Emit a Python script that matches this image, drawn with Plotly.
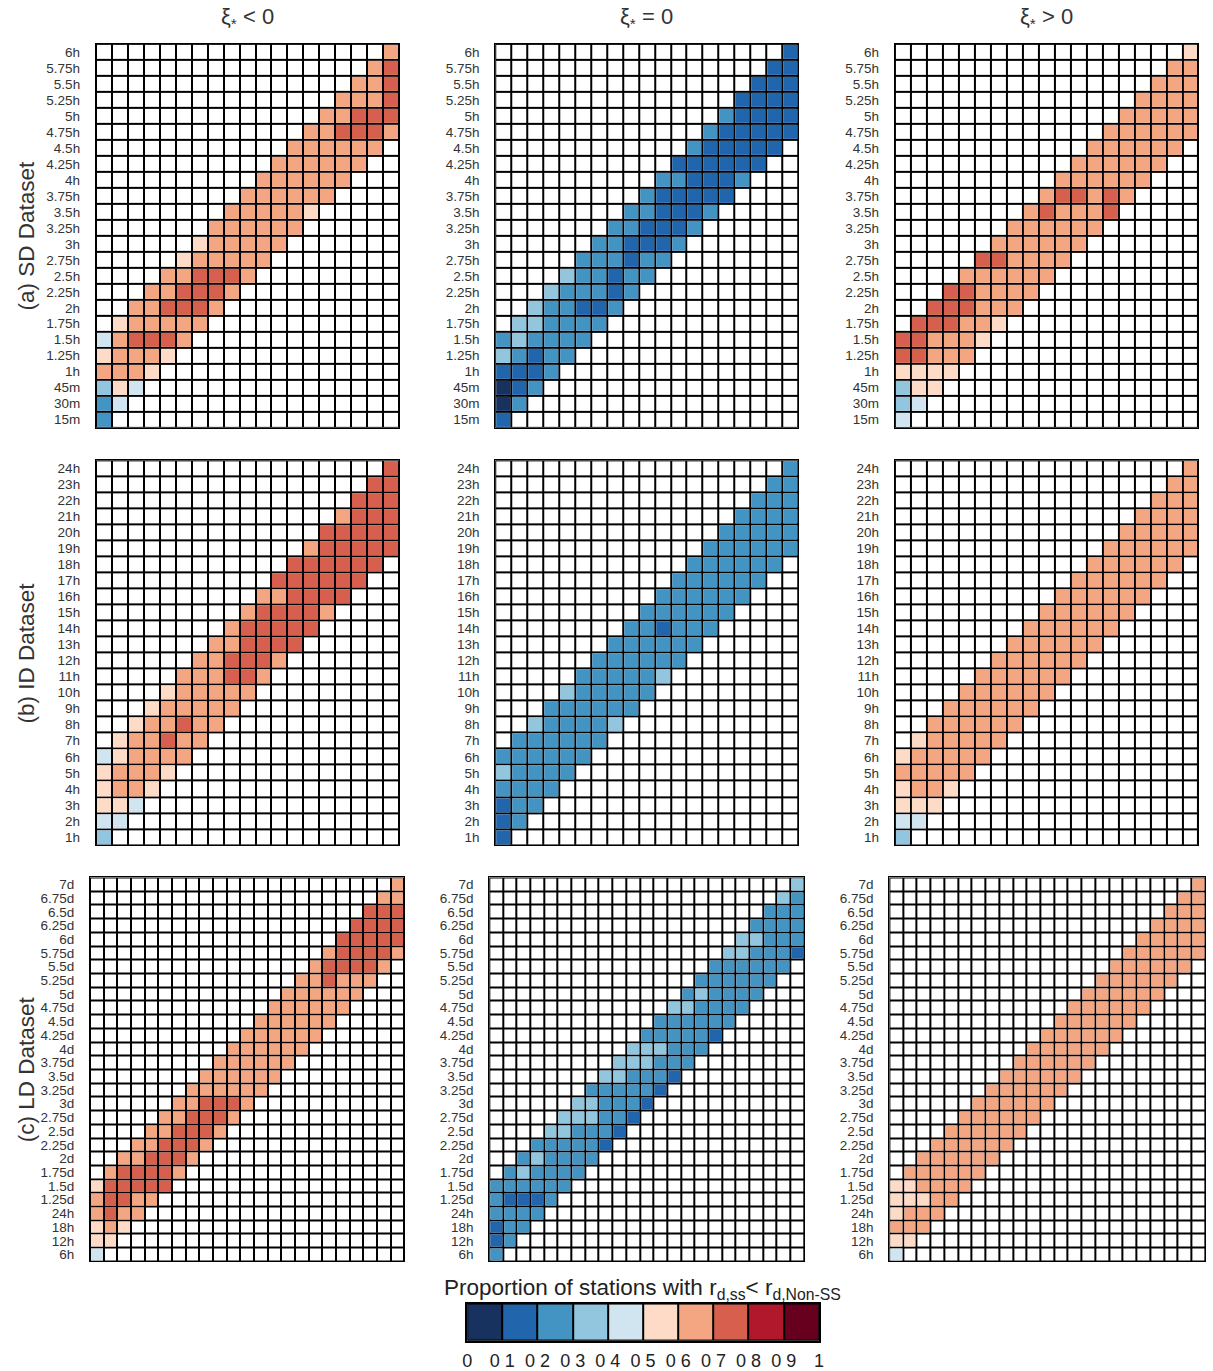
import plotly.graph_objects as go

W, H = 1213, 1371

# ---------------- tick labels ----------------
SD_LABELS = ["15m", "30m", "45m", "1h", "1.25h", "1.5h", "1.75h", "2h", "2.25h", "2.5h",
             "2.75h", "3h", "3.25h", "3.5h", "3.75h", "4h", "4.25h", "4.5h", "4.75h", "5h",
             "5.25h", "5.5h", "5.75h", "6h"]
ID_LABELS = ["1h", "2h", "3h", "4h", "5h", "6h", "7h", "8h", "9h", "10h", "11h", "12h",
             "13h", "14h", "15h", "16h", "17h", "18h", "19h", "20h", "21h", "22h", "23h", "24h"]
LD_LABELS = ["6h", "12h", "18h", "24h", "1.25d", "1.5d", "1.75d", "2d", "2.25d", "2.5d",
             "2.75d", "3d", "3.25d", "3.5d", "3.75d", "4d", "4.25d", "4.5d", "4.75d", "5d",
             "5.25d", "5.5d", "5.75d", "6d", "6.25d", "6.5d", "6.75d", "7d"]

COL_TITLES = ["ξ<sub>*</sub> < 0", "ξ<sub>*</sub> = 0", "ξ<sub>*</sub> > 0"]
ROW_TITLES = ["(a) SD Dataset", "(b) ID Dataset", "(c) LD Dataset"]

# ---------------- values (proportion, band cells per row, bottom row first) -------------
SD_NEG = [
    [0.25], [0.25, 0.45], [0.35, 0.55, 0.45], [0.65, 0.65, 0.65, 0.55],
    [0.55, 0.65, 0.65, 0.65, 0.55], [0.45, 0.65, 0.75, 0.75, 0.75, 0.65],
    [0.55, 0.65, 0.65, 0.65, 0.65, 0.65], [0.65, 0.65, 0.75, 0.75, 0.75, 0.65],
    [0.65, 0.65, 0.75, 0.75, 0.75, 0.65], [0.65, 0.65, 0.75, 0.75, 0.75, 0.65],
    [0.55, 0.65, 0.65, 0.65, 0.65, 0.65], [0.55, 0.65, 0.65, 0.65, 0.65, 0.65],
    [0.65, 0.65, 0.65, 0.65, 0.65, 0.65], [0.65, 0.65, 0.65, 0.65, 0.65, 0.55],
    [0.65, 0.65, 0.65, 0.65, 0.65, 0.65], [0.65, 0.65, 0.65, 0.65, 0.65, 0.65],
    [0.65, 0.65, 0.65, 0.65, 0.65, 0.65], [0.65, 0.65, 0.65, 0.65, 0.65, 0.65],
    [0.65, 0.65, 0.75, 0.75, 0.75, 0.65], [0.65, 0.65, 0.75, 0.75, 0.75],
    [0.65, 0.65, 0.65, 0.75], [0.65, 0.65, 0.75], [0.65, 0.75], [0.65],
]
SD_ZERO = [
    [0.15], [0.05, 0.25], [0.05, 0.15, 0.25], [0.15, 0.15, 0.15, 0.25],
    [0.35, 0.25, 0.15, 0.25, 0.25], [0.25, 0.35, 0.25, 0.25, 0.25, 0.25],
    [0.35, 0.35, 0.25, 0.25, 0.25, 0.25], [0.35, 0.25, 0.25, 0.15, 0.15, 0.25],
    [0.35, 0.25, 0.25, 0.25, 0.15, 0.25], [0.35, 0.25, 0.25, 0.15, 0.25, 0.25],
    [0.25, 0.25, 0.25, 0.15, 0.25, 0.25], [0.25, 0.25, 0.15, 0.15, 0.15, 0.25],
    [0.25, 0.25, 0.15, 0.15, 0.15, 0.25], [0.25, 0.25, 0.15, 0.15, 0.15, 0.25],
    [0.25, 0.15, 0.15, 0.15, 0.15, 0.15], [0.25, 0.25, 0.15, 0.15, 0.15, 0.25],
    [0.15, 0.15, 0.15, 0.15, 0.15, 0.15], [0.25, 0.15, 0.15, 0.15, 0.15, 0.15],
    [0.25, 0.15, 0.15, 0.15, 0.15, 0.15], [0.25, 0.15, 0.15, 0.15, 0.15],
    [0.15, 0.15, 0.15, 0.15], [0.15, 0.15, 0.15], [0.15, 0.15], [0.15],
]
SD_POS = [
    [0.45], [0.35, 0.45], [0.35, 0.55, 0.55], [0.55, 0.55, 0.55, 0.55],
    [0.75, 0.75, 0.65, 0.65, 0.65], [0.75, 0.75, 0.65, 0.65, 0.65, 0.55],
    [0.75, 0.75, 0.75, 0.65, 0.65, 0.55], [0.75, 0.75, 0.75, 0.65, 0.65, 0.65],
    [0.75, 0.75, 0.65, 0.65, 0.65, 0.65], [0.65, 0.65, 0.65, 0.65, 0.65, 0.65],
    [0.75, 0.75, 0.65, 0.65, 0.65, 0.65], [0.65, 0.65, 0.65, 0.65, 0.65, 0.65],
    [0.65, 0.65, 0.65, 0.65, 0.65, 0.65], [0.65, 0.75, 0.65, 0.65, 0.65, 0.75],
    [0.65, 0.75, 0.75, 0.65, 0.75, 0.65], [0.65, 0.65, 0.65, 0.65, 0.65, 0.65],
    [0.65, 0.65, 0.65, 0.65, 0.65, 0.65], [0.65, 0.65, 0.65, 0.65, 0.65, 0.65],
    [0.65, 0.65, 0.65, 0.65, 0.65, 0.65], [0.65, 0.65, 0.65, 0.65, 0.65],
    [0.65, 0.65, 0.65, 0.65], [0.65, 0.65, 0.65], [0.65, 0.65], [0.55],
]
ID_NEG = [
    [0.35], [0.45, 0.45], [0.55, 0.55, 0.45], [0.55, 0.65, 0.65, 0.55],
    [0.55, 0.65, 0.65, 0.65, 0.55], [0.45, 0.55, 0.65, 0.65, 0.65, 0.65],
    [0.55, 0.65, 0.65, 0.75, 0.65, 0.65], [0.55, 0.65, 0.65, 0.75, 0.65, 0.65],
    [0.55, 0.65, 0.65, 0.65, 0.65, 0.65], [0.55, 0.65, 0.65, 0.65, 0.65, 0.65],
    [0.65, 0.65, 0.65, 0.75, 0.75, 0.65], [0.65, 0.65, 0.75, 0.75, 0.75, 0.65],
    [0.65, 0.65, 0.75, 0.75, 0.75, 0.75], [0.65, 0.75, 0.75, 0.75, 0.75, 0.75],
    [0.65, 0.75, 0.75, 0.75, 0.75, 0.65], [0.65, 0.65, 0.75, 0.75, 0.75, 0.75],
    [0.75, 0.75, 0.75, 0.75, 0.75, 0.75], [0.75, 0.75, 0.75, 0.75, 0.75, 0.75],
    [0.65, 0.75, 0.75, 0.75, 0.75, 0.75], [0.75, 0.75, 0.75, 0.75, 0.75],
    [0.65, 0.75, 0.75, 0.75], [0.75, 0.75, 0.75], [0.75, 0.75], [0.75],
]
ID_ZERO = [
    [0.15], [0.15, 0.25], [0.15, 0.25, 0.25], [0.25, 0.25, 0.25, 0.25],
    [0.35, 0.25, 0.25, 0.25, 0.25], [0.25, 0.25, 0.25, 0.25, 0.25, 0.25],
    [0.25, 0.25, 0.25, 0.25, 0.25, 0.25], [0.35, 0.25, 0.25, 0.25, 0.25, 0.35],
    [0.25, 0.25, 0.25, 0.25, 0.25, 0.25], [0.35, 0.25, 0.25, 0.25, 0.25, 0.25],
    [0.25, 0.25, 0.25, 0.25, 0.25, 0.35], [0.25, 0.25, 0.25, 0.25, 0.25, 0.25],
    [0.25, 0.25, 0.25, 0.25, 0.25, 0.25], [0.25, 0.25, 0.15, 0.25, 0.25, 0.25],
    [0.25, 0.25, 0.25, 0.25, 0.25, 0.25], [0.25, 0.25, 0.25, 0.25, 0.25, 0.25],
    [0.25, 0.25, 0.25, 0.25, 0.25, 0.25], [0.25, 0.25, 0.25, 0.25, 0.25, 0.25],
    [0.25, 0.25, 0.25, 0.25, 0.25, 0.25], [0.25, 0.25, 0.25, 0.25, 0.25],
    [0.25, 0.25, 0.25, 0.25], [0.25, 0.25, 0.25], [0.25, 0.25], [0.25],
]
ID_POS = [
    [0.35], [0.45, 0.45], [0.55, 0.55, 0.55], [0.55, 0.65, 0.65, 0.55],
    [0.65, 0.65, 0.65, 0.65, 0.65], [0.55, 0.65, 0.65, 0.65, 0.65, 0.65],
    [0.55, 0.65, 0.65, 0.65, 0.65, 0.65], [0.65, 0.65, 0.65, 0.65, 0.65, 0.65],
    [0.65, 0.65, 0.65, 0.65, 0.65, 0.65], [0.65, 0.65, 0.65, 0.65, 0.65, 0.65],
    [0.65, 0.65, 0.65, 0.65, 0.65, 0.65], [0.65, 0.65, 0.65, 0.65, 0.65, 0.65],
    [0.65, 0.65, 0.65, 0.65, 0.65, 0.65], [0.65, 0.65, 0.65, 0.65, 0.65, 0.65],
    [0.65, 0.65, 0.65, 0.65, 0.65, 0.65], [0.65, 0.65, 0.65, 0.65, 0.65, 0.65],
    [0.65, 0.65, 0.65, 0.65, 0.65, 0.65], [0.65, 0.65, 0.65, 0.65, 0.65, 0.65],
    [0.65, 0.65, 0.65, 0.65, 0.65, 0.65], [0.65, 0.65, 0.65, 0.65, 0.65],
    [0.65, 0.65, 0.65, 0.65], [0.65, 0.65, 0.65], [0.65, 0.65], [0.65],
]
LD_NEG = [
    [0.45], [0.55, 0.55], [0.55, 0.65, 0.55], [0.65, 0.75, 0.65, 0.65],
    [0.65, 0.75, 0.75, 0.65, 0.65], [0.55, 0.75, 0.75, 0.75, 0.75, 0.75],
    [0.65, 0.75, 0.75, 0.75, 0.75, 0.65], [0.65, 0.65, 0.75, 0.75, 0.75, 0.65],
    [0.65, 0.65, 0.75, 0.75, 0.75, 0.65], [0.65, 0.65, 0.75, 0.75, 0.75, 0.65],
    [0.65, 0.65, 0.75, 0.75, 0.75, 0.65], [0.65, 0.65, 0.75, 0.75, 0.75, 0.65],
    [0.65, 0.65, 0.65, 0.65, 0.65, 0.65], [0.65, 0.65, 0.65, 0.65, 0.65, 0.65],
    [0.65, 0.65, 0.65, 0.65, 0.65, 0.65], [0.65, 0.65, 0.65, 0.65, 0.65, 0.65],
    [0.65, 0.65, 0.65, 0.65, 0.65, 0.65], [0.65, 0.65, 0.65, 0.65, 0.65, 0.65],
    [0.65, 0.65, 0.65, 0.65, 0.65, 0.65], [0.65, 0.65, 0.65, 0.65, 0.65, 0.65],
    [0.65, 0.65, 0.75, 0.65, 0.65, 0.65], [0.65, 0.75, 0.75, 0.75, 0.75, 0.65],
    [0.65, 0.75, 0.75, 0.75, 0.75, 0.65], [0.75, 0.75, 0.75, 0.75, 0.75],
    [0.75, 0.75, 0.75, 0.75], [0.75, 0.75, 0.75], [0.65, 0.65], [0.65],
]
LD_ZERO = [
    [0.25], [0.15, 0.25], [0.15, 0.25, 0.25], [0.25, 0.25, 0.25, 0.25],
    [0.25, 0.15, 0.15, 0.15, 0.25], [0.25, 0.25, 0.25, 0.25, 0.25, 0.25],
    [0.25, 0.35, 0.25, 0.25, 0.25, 0.25], [0.25, 0.35, 0.25, 0.25, 0.25, 0.25],
    [0.25, 0.25, 0.25, 0.25, 0.25, 0.15], [0.35, 0.35, 0.25, 0.25, 0.25, 0.15],
    [0.35, 0.35, 0.35, 0.25, 0.25, 0.15], [0.35, 0.35, 0.25, 0.25, 0.25, 0.15],
    [0.25, 0.25, 0.25, 0.25, 0.25, 0.15], [0.35, 0.35, 0.25, 0.25, 0.25, 0.15],
    [0.35, 0.35, 0.35, 0.25, 0.25, 0.25], [0.35, 0.35, 0.35, 0.25, 0.25, 0.25],
    [0.25, 0.25, 0.25, 0.25, 0.25, 0.15], [0.25, 0.25, 0.25, 0.25, 0.25, 0.25],
    [0.35, 0.35, 0.25, 0.25, 0.25, 0.25], [0.25, 0.35, 0.25, 0.25, 0.25, 0.25],
    [0.25, 0.25, 0.25, 0.25, 0.25, 0.25], [0.25, 0.25, 0.25, 0.25, 0.25, 0.25],
    [0.35, 0.35, 0.25, 0.25, 0.25, 0.15], [0.35, 0.35, 0.25, 0.25, 0.25],
    [0.25, 0.25, 0.25, 0.25], [0.25, 0.25, 0.25], [0.35, 0.25], [0.35],
]
LD_POS = [
    [0.45], [0.55, 0.55], [0.65, 0.65, 0.65], [0.55, 0.65, 0.65, 0.65],
    [0.55, 0.55, 0.55, 0.65, 0.65], [0.55, 0.55, 0.65, 0.65, 0.65, 0.65],
    [0.65, 0.65, 0.65, 0.65, 0.65, 0.65], [0.65, 0.65, 0.65, 0.65, 0.65, 0.65],
    [0.65, 0.65, 0.65, 0.65, 0.65, 0.65], [0.65, 0.65, 0.65, 0.65, 0.65, 0.65],
    [0.65, 0.65, 0.65, 0.65, 0.65, 0.65], [0.65, 0.65, 0.65, 0.65, 0.65, 0.65],
    [0.65, 0.65, 0.65, 0.65, 0.65, 0.65], [0.65, 0.65, 0.65, 0.65, 0.65, 0.65],
    [0.65, 0.65, 0.65, 0.65, 0.65, 0.65], [0.65, 0.65, 0.65, 0.65, 0.65, 0.65],
    [0.65, 0.65, 0.65, 0.65, 0.65, 0.65], [0.65, 0.65, 0.65, 0.65, 0.65, 0.65],
    [0.65, 0.65, 0.65, 0.65, 0.65, 0.65], [0.65, 0.65, 0.65, 0.65, 0.65, 0.65],
    [0.65, 0.65, 0.65, 0.65, 0.65, 0.65], [0.65, 0.65, 0.65, 0.65, 0.65, 0.65],
    [0.65, 0.65, 0.65, 0.65, 0.65, 0.65], [0.65, 0.65, 0.65, 0.65, 0.65],
    [0.65, 0.65, 0.65, 0.65], [0.65, 0.65, 0.65], [0.65, 0.65], [0.65],
]

CB_VALUES = [0.05, 0.15, 0.25, 0.35, 0.45, 0.55, 0.65, 0.75, 0.85, 0.95]
CB_TICKS = ["0", "0 1", "0 2", "0 3", "0 4", "0 5", "0 6", "0 7", "0 8", "0 9", "1"]

COLORS = ["#17325f", "#2166ac", "#4393c3", "#92c5de", "#d1e5f0",
          "#fddbc7", "#f4a582", "#d6604d", "#b2182b", "#67001f"]
CSCALE = []
for k, c in enumerate(COLORS):
    CSCALE += [[k / 10, c], [(k + 1) / 10, c]]

PANELS = [
    (SD_NEG, SD_LABELS), (SD_ZERO, SD_LABELS), (SD_POS, SD_LABELS),
    (ID_NEG, ID_LABELS), (ID_ZERO, ID_LABELS), (ID_POS, ID_LABELS),
    (LD_NEG, LD_LABELS), (LD_ZERO, LD_LABELS), (LD_POS, LD_LABELS),
]

# pixel boxes of panels (left, right, top, bottom)
ROW_Y = [(44, 429.3), (462, 848), (880.7, 1266)]
COL_X_SMALL = [(91.7, 397.3), (494.3, 800), (897.3, 1203.3)]
COL_X_LD = [(85.7, 402.7), (488.3, 805.7), (891.7, 1210)]

BAND = 6


def band_matrix(rows, ncols):
    z = [[None] * ncols for _ in rows]
    for r, vals in enumerate(rows):
        start = max(0, r - (BAND - 1))
        for k, v in enumerate(vals):
            z[r][start + k] = v
    return z


fig = go.Figure()
layout = dict(
    width=W, height=H, autosize=False,
    margin=dict(l=0, r=0, t=0, b=0),
    paper_bgcolor="white", plot_bgcolor="black",
    showlegend=False,
    font=dict(family="Liberation Sans, Arial", color="#333333"),
)

for i, (rows, labels) in enumerate(PANELS):
    n = i + 1
    ri, ci = divmod(i, 3)
    nr = len(labels)
    nc = nr - (BAND - 1)
    xs = COL_X_LD[ci] if ri == 2 else COL_X_SMALL[ci]
    y0, y1 = ROW_Y[ri]
    xa, ya = f"x{n}", f"y{n}"
    gap = 2
    fig.add_trace(go.Heatmap(
        z=[[0] * nc for _ in range(nr)], x=list(range(nc)), y=list(range(nr)),
        colorscale=[[0, "white"], [1, "white"]], showscale=False,
        xgap=gap, ygap=gap, hoverinfo="skip", xaxis=xa, yaxis=ya))
    fig.add_trace(go.Heatmap(
        z=band_matrix(rows, nc), x=list(range(nc)), y=list(range(nr)),
        colorscale=CSCALE, zmin=0, zmax=1, showscale=False,
        xgap=gap, ygap=gap, xaxis=xa, yaxis=ya))
    key = "" if n == 1 else str(n)
    layout["xaxis" + key] = dict(
        domain=[xs[0] / W, xs[1] / W], range=[-0.5, nc - 0.5], anchor=ya,
        showticklabels=False, showgrid=False, zeroline=False, ticks="",
        showline=True, linecolor="black", linewidth=1.2, mirror=True, fixedrange=True)
    layout["yaxis" + key] = dict(
        domain=[1 - y1 / H, 1 - y0 / H], range=[-0.5, nr - 0.5], anchor=xa,
        tickmode="array", tickvals=list(range(nr)), ticktext=labels,
        ticks="outside", ticklen=12, tickcolor="rgba(0,0,0,0)",
        tickfont=dict(size=13.5, color="#333333", family="Liberation Sans, Arial"),
        showgrid=False, zeroline=False,
        showline=True, linecolor="black", linewidth=1.2, mirror=True, fixedrange=True)

# colour bar drawn as a one-row heatmap
fig.add_trace(go.Heatmap(
    z=[CB_VALUES], x=list(range(len(CB_VALUES))), y=[0],
    colorscale=CSCALE, zmin=0, zmax=1, showscale=False,
    xgap=2, ygap=2, xaxis="x10", yaxis="y10"))
layout["xaxis10"] = dict(
    domain=[466 / W, 820.7 / W], range=[-0.5, len(CB_VALUES) - 0.5], anchor="y10",
    tickmode="array", tickvals=[k - 0.5 for k in range(len(CB_TICKS))], ticktext=CB_TICKS,
    ticks="outside", ticklen=3, tickcolor="rgba(0,0,0,0)",
    tickfont=dict(size=18, color="#222222", family="Liberation Sans, Arial"),
    showgrid=False, zeroline=False,
    showline=True, linecolor="black", linewidth=1.5, mirror=True, fixedrange=True)
layout["yaxis10"] = dict(
    domain=[1 - 1345.7 / H, 1 - 1308.3 / H], range=[-0.5, 0.5], anchor="x10",
    showticklabels=False, showgrid=False, zeroline=False, ticks="",
    showline=True, linecolor="black", linewidth=1.5, mirror=True, fixedrange=True)

annotations = []
for ci, t in enumerate(COL_TITLES):
    cx = (COL_X_SMALL[ci][0] + COL_X_SMALL[ci][1]) / 2
    annotations.append(dict(
        x=cx / W, y=1 - 18 / H, xref="paper", yref="paper", text=t, showarrow=False,
        xanchor="center", yanchor="middle",
        font=dict(size=22, family="Liberation Sans Narrow, Liberation Sans", color="#333333")))
for ri, t in enumerate(ROW_TITLES):
    cy = (ROW_Y[ri][0] + ROW_Y[ri][1]) / 2
    annotations.append(dict(
        x=22 / W, y=1 - cy / H, xref="paper", yref="paper", text=t, showarrow=False,
        xanchor="center", yanchor="middle", textangle=-90,
        font=dict(size=22.5, family="Liberation Sans, Arial", color="#333333")))
annotations.append(dict(
    x=643 / W, y=1 - 1294 / H, xref="paper", yref="paper",
    text="Proportion of stations with r<sub>d,ss</sub>< r<sub>d,Non-SS</sub>",
    showarrow=False, xanchor="center", yanchor="middle",
    font=dict(size=22.5, family="Liberation Sans, Arial", color="#222222")))
layout["annotations"] = annotations

fig.update_layout(**layout)
fig.write_html("out.html")
